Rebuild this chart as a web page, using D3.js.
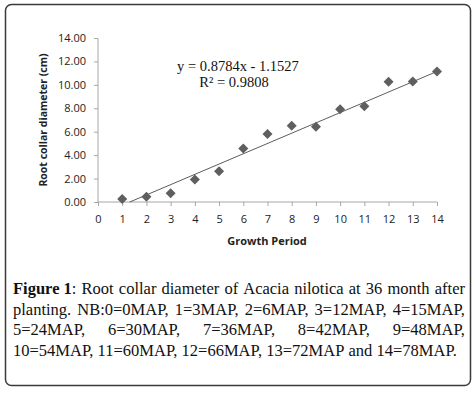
<!DOCTYPE html>
<html>
<head>
<meta charset="utf-8">
<script src="https://cdn.jsdelivr.net/npm/d3@7"></script>
<style>
  body { margin: 0; background: #fff; }
  svg { display: block; }
</style>
</head>
<body>
<div id="chart"></div>
<script>
// growth period (0..14) and root collar diameter (cm)
const periods = [1, 2, 3, 4, 5, 6, 7, 8, 9, 10, 11, 12, 13, 14];
const diameters = [0.25, 0.45, 0.75, 1.93, 2.62, 4.57, 5.8, 6.5, 6.43, 7.92, 8.17, 10.27, 10.28, 11.15];
const xTicks = d3.range(0, 15);
const yTicks = [0, 2, 4, 6, 8, 10, 12, 14];
const slope = 0.8784, intercept = -1.1527;
const eqLabel = "y = 0.8784x - 1.1527";
const r2Label = "R² = 0.9808";
const captionLines = [
  ["Figure 1:", "Root", "collar", "diameter", "of", "Acacia", "nilotica", "at", "36", "month", "after"],
  ["planting.", "NB:0=0MAP,", "1=3MAP,", "2=6MAP,", "3=12MAP,", "4=15MAP,"],
  ["5=24MAP,", "6=30MAP,", "7=36MAP,", "8=42MAP,", "9=48MAP,"],
  ["10=54MAP,", "11=60MAP,", "12=66MAP,", "13=72MAP", "and", "14=78MAP."]
];

const W = 476, H = 393;
const svg = d3.select("#chart").append("svg").attr("width", W).attr("height", H);

// frame round the figure
svg.append("rect").attr("x", 5.5).attr("y", 4.5).attr("width", 465).attr("height", 381)
  .attr("rx", 6).attr("fill", "none").attr("stroke", "#3a3a3a").attr("stroke-width", 1.5);

const x = d3.scaleLinear().domain([0, 14]).range([98, 437]);
const y = d3.scaleLinear().domain([0, 14]).range([202, 38]);

// y axis
const yAxis = svg.append("g").attr("transform", "translate(98,0)")
  .call(d3.axisLeft(y).tickValues(yTicks).tickSize(4).tickPadding(8).tickFormat(d3.format(".2f")));
// x axis
const xAxis = svg.append("g").attr("transform", "translate(0,202)")
  .call(d3.axisBottom(x).tickValues(xTicks).tickSize(4).tickPadding(9).tickFormat(d3.format("d")));
[yAxis, xAxis].forEach(g => {
  g.select(".domain").attr("stroke", "#a6a6a6");
  g.selectAll(".tick line").attr("stroke", "#a6a6a6");
  g.selectAll(".tick text").attr("fill", "#222").attr("font-family", "'Open Sans', sans-serif").attr("font-size", 11);
});
xAxis.select(".domain").attr("d", "M98,0H437");
yAxis.select(".domain").attr("d", "M-4,38.5H0V202");

// axis titles
svg.append("text").attr("x", 267).attr("y", 245).attr("text-anchor", "middle")
  .attr("font-family", "'Open Sans', sans-serif").attr("font-weight", "bold").attr("font-size", 11)
  .attr("fill", "#222").text("Growth Period");
svg.append("text").attr("transform", "translate(47,120) rotate(-90)").attr("text-anchor", "middle")
  .attr("font-family", "'Open Sans', sans-serif").attr("font-weight", "bold").attr("font-size", 10.5)
  .attr("fill", "#222").text("Root collar diameter (cm)");

// linear trend line, from where it crosses zero
const x0 = -intercept / slope;
svg.append("line")
  .attr("x1", x(x0)).attr("y1", y(0))
  .attr("x2", x(14)).attr("y2", y(slope * 14 + intercept))
  .attr("stroke", "#333").attr("stroke-width", 0.8);

// points
svg.append("g").selectAll("path").data(periods).enter().append("path")
  .attr("d", d3.symbol().type(d3.symbolDiamond2).size(64))
  .attr("transform", (d, i) => `translate(${x(d)},${y(diameters[i])})`)
  .attr("fill", "#5f5f5f");

// equation
svg.append("text").attr("x", 238).attr("y", 71).attr("text-anchor", "middle")
  .attr("font-family", "'Liberation Serif', 'Times New Roman', serif").attr("font-size", 14.5)
  .attr("fill", "#111").text(eqLabel);
svg.append("text").attr("x", 234).attr("y", 87).attr("text-anchor", "middle")
  .attr("font-family", "'Liberation Serif', 'Times New Roman', serif").attr("font-size", 14.5)
  .attr("fill", "#111").text(r2Label);

// caption, justified line by line (last line left aligned)
// the original serif is wider than Times, so the lines are stretched a bit
const capLeft = 13, capRight = 465, capSize = 16;
const capBase = [294, 315, 335.5, 356];
const spaceW = capSize * 0.25;
const lineGroups = captionLines.map((words, li) => {
  const g = svg.append("g");
  const nodes = words.map((w, wi) => {
    const t = g.append("text").attr("y", capBase[li])
      .attr("font-family", "'Liberation Serif', 'Times New Roman', serif").attr("font-size", capSize)
      .attr("fill", "#111");
    if (li === 0 && wi === 0) {
      t.append("tspan").attr("font-weight", "bold").text("Figure 1");
      t.append("tspan").text(":");
    } else {
      t.text(w);
    }
    return t;
  });
  const widths = nodes.map(n => n.node().getComputedTextLength());
  return { g, nodes, widths, words };
});
// the last line is set with plain spaces and ends near x=457 in the original
const ref = lineGroups[lineGroups.length - 1];
const natural = d3.sum(ref.widths) + spaceW * (ref.words.length - 1);
const sx = (457 - capLeft) / natural;
lineGroups.forEach((L, li) => {
  L.g.attr("transform", `translate(${capLeft},0) scale(${sx},1)`);
  const span = (capRight - capLeft) / sx;
  const last = li === lineGroups.length - 1;
  const gap = last ? spaceW : (span - d3.sum(L.widths)) / (L.words.length - 1);
  let cx = 0;
  L.nodes.forEach((n, i) => { n.attr("x", cx); cx += L.widths[i] + gap; });
});
</script>
</body>
</html>
